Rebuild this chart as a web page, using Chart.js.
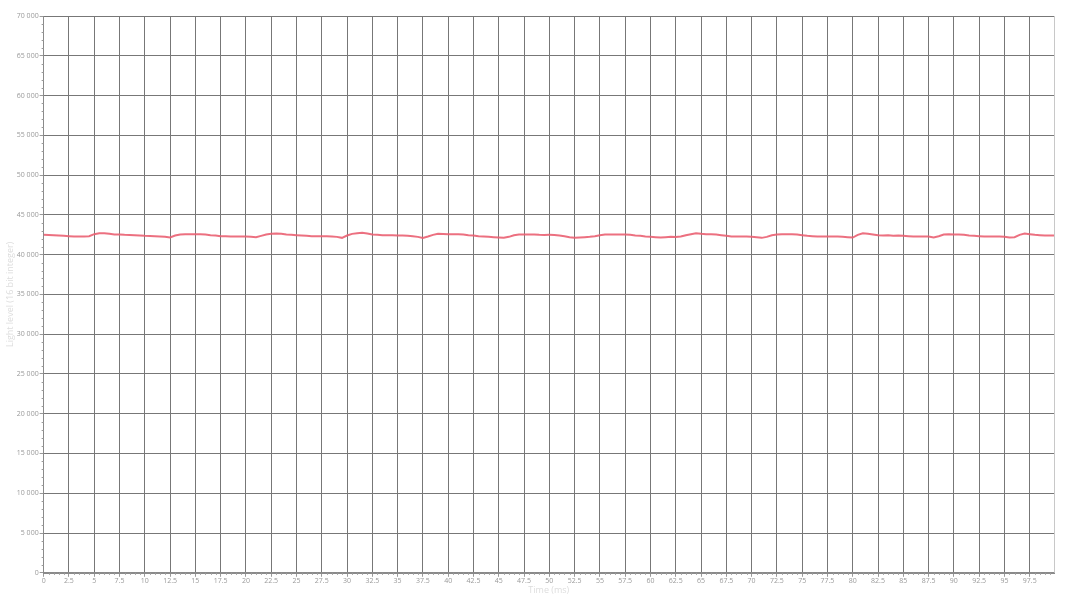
<!DOCTYPE html>
<html>
<head>
<meta charset="utf-8">
<script src="https://cdn.jsdelivr.net/npm/chart.js@4.4.1/dist/chart.umd.min.js"></script>
<style>
  html, body { margin: 0; padding: 0; background: #ffffff; }
  #wrap { width: 1066px; height: 600px; position: relative; }
</style>
</head>
<body>
<div id="wrap"><canvas id="c"></canvas></div>
<script>
// Light level samples, one every 0.5 ms (last sample at 99.9 ms)
const lightLevel = [
  42490, 42478, 42445, 42405, 42362, 42320, 42280, 42270, 42282, 42320,
  42570, 42690, 42700, 42615, 42525, 42530, 42488, 42480, 42440, 42405,
  42360, 42355, 42318, 42275, 42235, 42150, 42400, 42530, 42570, 42565,
  42575, 42568, 42525, 42445, 42400, 42320, 42315, 42278, 42272, 42280,
  42275, 42235, 42190, 42360, 42528, 42610, 42655, 42612, 42525, 42485,
  42445, 42400, 42360, 42320, 42315, 42322, 42318, 42275, 42232, 42110,
  42400, 42610, 42695, 42735, 42650, 42528, 42485, 42442, 42448, 42440,
  42402, 42398, 42360, 42318, 42232, 42108, 42275, 42485, 42612, 42608,
  42570, 42565, 42572, 42527, 42444, 42400, 42318, 42276, 42234, 42190,
  42150, 42110, 42235, 42442, 42528, 42522, 42530, 42525, 42486, 42482,
  42488, 42480, 42400, 42318, 42192, 42108, 42150, 42192, 42234, 42318,
  42444, 42528, 42522, 42530, 42525, 42530, 42485, 42400, 42360, 42276,
  42234, 42190, 42150, 42192, 42234, 42230, 42276, 42444, 42570, 42695,
  42612, 42570, 42565, 42528, 42444, 42360, 42276, 42272, 42280, 42274,
  42234, 42190, 42108, 42234, 42444, 42528, 42570, 42565, 42572, 42528,
  42444, 42360, 42318, 42276, 42280, 42272, 42278, 42274, 42234, 42190,
  42150, 42486, 42695, 42612, 42528, 42444, 42400, 42444, 42360, 42400,
  42360, 42318, 42276, 42280, 42272, 42278, 42150, 42318, 42528, 42570,
  42528, 42522, 42486, 42400, 42360, 42318, 42276, 42280, 42272, 42278,
  42234, 42150, 42192, 42486, 42653, 42570, 42486, 42444, 42400, 42402,
  42405
];
const sampleStepMs = 0.5;
const timeMax = 99.9;
const timeMs = lightLevel.map((_, i) => Math.min(i * sampleStepMs, timeMax));

const yTickStep = 5000;
const yMax = 70000;
const xTickStep = 2.5;

const xTitle = 'Time (ms)';
const yTitle = 'Light level (16 bit integer)';

function fmtThousands(v) {
  return String(v).replace(/\B(?=(\d{3})+(?!\d))/g, ' ');
}

const minorTicks = {
  id: 'minorTicks',
  afterDraw(chart) {
    const ctx = chart.ctx;
    const xs = chart.scales.x, ys = chart.scales.y;
    const a = chart.chartArea;
    ctx.save();
    ctx.strokeStyle = '#9a9a9a';
    ctx.lineWidth = 1;
    ctx.beginPath();
    for (let v = 0; v <= yMax; v += yTickStep / 5) {
      if (v % yTickStep === 0) continue;
      const y = Math.round(ys.getPixelForValue(v)) + 0.5;
      ctx.moveTo(a.left - 2, y); ctx.lineTo(a.left, y);
    }
    for (let k = 0; k * xTickStep / 5 <= timeMax; k++) {
      if (k % 5 === 0) continue;
      const x = Math.round(xs.getPixelForValue(k * xTickStep / 5)) + 0.5;
      ctx.moveTo(x, a.bottom); ctx.lineTo(x, a.bottom + 2);
    }
    ctx.stroke();
    // right border
    ctx.strokeStyle = '#c8c8c8';
    ctx.beginPath();
    ctx.moveTo(Math.round(a.right) + 0.5, a.top);
    ctx.lineTo(Math.round(a.right) + 0.5, a.bottom);
    ctx.stroke();
    ctx.restore();
  }
};

new Chart(document.getElementById('c'), {
  type: 'line',
  data: {
    datasets: [{
      data: timeMs.map((t, i) => ({ x: t, y: lightLevel[i] })),
      borderColor: 'rgba(234, 96, 114, 0.9)',
      borderWidth: 2,
      pointRadius: 0,
      tension: 0,
      fill: false
    }]
  },
  options: {
    responsive: true,
    maintainAspectRatio: false,
    animation: false,
    layout: { padding: { top: 16, right: 12, left: 0, bottom: 4 } },
    plugins: { legend: { display: false }, tooltip: { enabled: false } },
    scales: {
      x: {
        type: 'linear',
        min: 0,
        max: timeMax,
        grid: { color: '#777777', lineWidth: 1, tickLength: 4, tickColor: '#999999' },
        border: { color: '#8a8a8a', width: 2 },
        ticks: {
          stepSize: xTickStep,
          includeBounds: false,
          autoSkip: false,
          maxRotation: 0,
          color: '#999999',
          padding: 0,
          font: { family: 'Open Sans', size: 7 }
        },
        title: {
          display: true, text: xTitle, color: '#dddddd',
          font: { family: 'Open Sans', size: 9 }, padding: { top: 0, bottom: 0 }
        }
      },
      y: {
        min: 0,
        max: yMax,
        grid: { color: '#777777', lineWidth: 1, tickLength: 4, tickColor: '#999999' },
        border: { color: '#8a8a8a', width: 1 },
        ticks: {
          stepSize: yTickStep,
          color: '#999999',
          padding: 1,
          font: { family: 'Open Sans', size: 7 },
          callback: (v) => fmtThousands(v)
        },
        title: {
          display: true, text: yTitle, color: '#dddddd',
          font: { family: 'Open Sans', size: 9 }, padding: { top: 5, bottom: 0 }
        }
      }
    }
  },
  plugins: [minorTicks]
});
</script>
</body>
</html>
